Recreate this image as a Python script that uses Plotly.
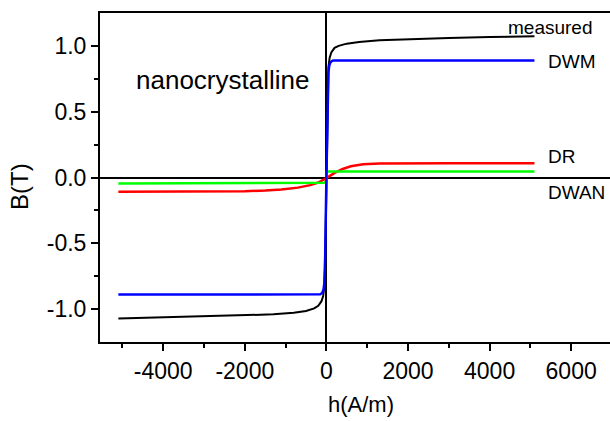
import plotly.graph_objects as go

# ---- data ----
h_measured = [-5100, -4000, -3000, -2000, -1300, -800, -500, -300, -200, -120, -80, -50, -30, -15, 0,
              15, 30, 50, 80, 120, 200, 300, 500, 800, 1300, 2000, 3000, 4000, 5100]
B_measured = [-1.072, -1.064, -1.057, -1.049, -1.040, -1.028, -1.015, -0.995, -0.975, -0.94, -0.90, -0.83, -0.65, -0.35, 0.0,
              0.35, 0.65, 0.84, 0.91, 0.95, 0.985, 1.000, 1.017, 1.030, 1.042, 1.051, 1.060, 1.067, 1.074]

h_dwm = [-5100, -200, -150, -100, -70, -50, -30, 0, 30, 50, 70, 100, 150, 200, 5100]
B_dwm = [-0.89, -0.89, -0.888, -0.875, -0.85, -0.80, -0.60, 0.0, 0.60, 0.80, 0.85, 0.875, 0.888, 0.89, 0.89]

h_dr = [-5100, -3000, -2000, -1500, -1100, -700, -400, -200, 0, 200, 400, 600, 900, 1300, 2000, 3000, 5100]
B_dr = [-0.108, -0.107, -0.104, -0.099, -0.092, -0.077, -0.058, -0.038, -0.005, 0.035, 0.065, 0.085, 0.100, 0.106, 0.108, 0.108, 0.108]

h_dwan = [-5100, -150, -60, -20, -5, 5, 20, 5100]
B_dwan = [-0.046, -0.045, -0.040, -0.033, -0.030, 0.045, 0.045, 0.045]

x_ticks = [-4000, -2000, 0, 2000, 4000, 6000]
x_ticktext = ["-4000", "-2000", "0", "2000", "4000", "6000"]
x_minor = [-5000, -3000, -1000, 1000, 3000, 5000]
y_ticks = [-1.0, -0.5, 0.0, 0.5, 1.0]
y_ticktext = ["-1.0", "-0.5", "0.0", "0.5", "1.0"]
y_minor = [-0.75, -0.25, 0.25, 0.75]

FONT = "Liberation Sans, Arial, sans-serif"

fig = go.Figure()
fig.add_trace(go.Scatter(x=h_measured, y=B_measured, mode="lines", line=dict(color="#000000", width=2), name="measured"))
fig.add_trace(go.Scatter(x=h_dr, y=B_dr, mode="lines", line=dict(color="#FF0000", width=2.5), name="DR"))
fig.add_trace(go.Scatter(x=h_dwan, y=B_dwan, mode="lines", line=dict(color="#00FF00", width=2.5), name="DWAN"))
fig.add_trace(go.Scatter(x=h_dwm, y=B_dwm, mode="lines", line=dict(color="#0000FF", width=2.5), name="DWM"))

fig.update_layout(
    width=610, height=421,
    margin=dict(l=100, r=0, t=13, b=79),
    paper_bgcolor="white", plot_bgcolor="white",
    showlegend=False, hovermode=False,
    font=dict(family=FONT, color="black"),
)
fig.update_xaxes(
    range=[-5550, 6952],
    showline=True, linewidth=2, linecolor="black", mirror=True,
    showgrid=False,
    zeroline=True, zerolinewidth=2, zerolinecolor="black",
    ticks="outside", ticklen=7, tickwidth=2, tickcolor="black",
    tickmode="array", tickvals=x_ticks, ticktext=x_ticktext,
    tickfont=dict(size=23, family=FONT),
    minor=dict(tickmode="array", tickvals=x_minor, ticks="outside", ticklen=4, tickwidth=2, tickcolor="black", showgrid=False),
)
fig.update_yaxes(
    range=[-1.25, 1.25],
    showline=True, linewidth=2, linecolor="black", mirror=False,
    showgrid=False,
    zeroline=True, zerolinewidth=2, zerolinecolor="black",
    ticks="outside", ticklen=7, tickwidth=2, tickcolor="black",
    tickmode="array", tickvals=y_ticks, ticktext=y_ticktext,
    tickfont=dict(size=23, family=FONT),
    minor=dict(tickmode="array", tickvals=y_minor, ticks="outside", ticklen=4, tickwidth=2, tickcolor="black", showgrid=False),
)

# axis titles
fig.add_annotation(text="h(A/m)", xref="paper", yref="paper", x=(361 - 100) / 510, y=-(405 - 342.3) / 329.6,
                   showarrow=False, font=dict(size=22, family=FONT), xanchor="center", yanchor="middle")
fig.add_annotation(text="B(T)", xref="paper", yref="paper", x=-(100 - 20) / 510, y=(342.3 - 187) / 329.6,
                   showarrow=False, textangle=-90, font=dict(size=24, family=FONT), xanchor="center", yanchor="middle")

# curve labels
fig.add_annotation(text="measured", x=4406, y=1.14, xref="x", yref="y", showarrow=False,
                   xanchor="left", yanchor="middle", font=dict(size=19, family=FONT))
fig.add_annotation(text="DWM", x=5386, y=0.883, xref="x", yref="y", showarrow=False,
                   xanchor="left", yanchor="middle", font=dict(size=19, family=FONT))
fig.add_annotation(text="DR", x=5386, y=0.156, xref="x", yref="y", showarrow=False,
                   xanchor="left", yanchor="middle", font=dict(size=19, family=FONT))
fig.add_annotation(text="DWAN", x=5386, y=-0.117, xref="x", yref="y", showarrow=False,
                   xanchor="left", yanchor="middle", font=dict(size=19, family=FONT))
fig.add_annotation(text="nanocrystalline", x=-2546, y=0.739, xref="x", yref="y", showarrow=False,
                   xanchor="center", yanchor="middle", font=dict(size=26, family=FONT))

fig.write_html("out.html", config={"displayModeBar": False, "staticPlot": True},
               post_script="document.body.style.margin='0px';document.body.style.overflow='hidden';")
